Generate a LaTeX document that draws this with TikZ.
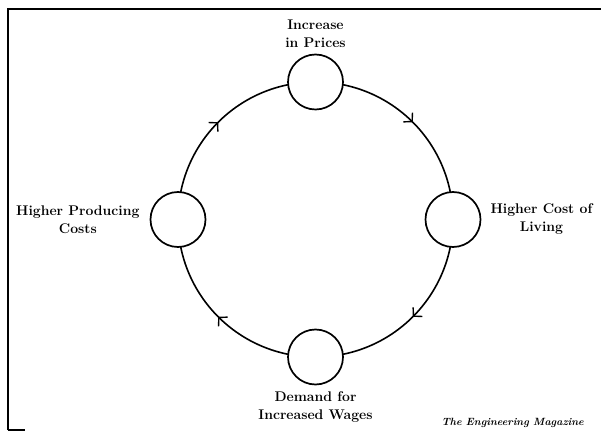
\documentclass[tikz,border=0pt]{standalone}
\usepackage{amsmath}
\usepackage{tikz}
\usetikzlibrary{arrows.meta,positioning,backgrounds,decorations.markings}

\begin{document}
\begin{tikzpicture}[x=1pt,y=1pt,
  stage/.style={circle,draw,line width=1.7pt,fill=white,minimum size=55pt,inner sep=0pt},
  caption/.style={font=\fontsize{14}{18}\selectfont\bfseries,align=center,inner sep=0pt},
  flow/.style={line width=1.6pt,postaction={decorate},
    decoration={markings,mark=at position 0.5 with {\arrow{Straight Barb[length=6pt,width=13pt,line width=1.4pt]}}}}]
\useasboundingbox(0,0)rectangle(601,431);
\draw[line width=1.8pt](8,1)--(8,422)--(601,422);
\draw[line width=1.8pt](8,1)--(25,1);
\node[stage](prices) at (315.5,349){};
\node[stage](living) at (453,211.5){};
\node[stage](wages) at (315.5,74){};
\node[stage](costs) at (178,211.5){};
\node[caption,above=6pt of prices]{Increase\\in Prices};
\node[caption,right=9pt of living]{Higher Cost of\\Living};
\node[caption,below=6pt of wages]{Demand for\\Increased Wages};
\node[caption,left=10pt of costs]{Higher Producing\\Costs};
\node[font=\fontsize{10.5}{12}\selectfont\bfseries\itshape,anchor=south east,inner sep=0pt](source) at (584,3){The Engineering Magazine};
\begin{scope}[on background layer]
\draw[flow](prices.center)to[out=0,in=90](living.center);
\draw[flow](living.center)to[out=-90,in=0](wages.center);
\draw[flow](wages.center)to[out=180,in=-90](costs.center);
\draw[flow](costs.center)to[out=90,in=180](prices.center);
\end{scope}
\end{tikzpicture}
\end{document}
